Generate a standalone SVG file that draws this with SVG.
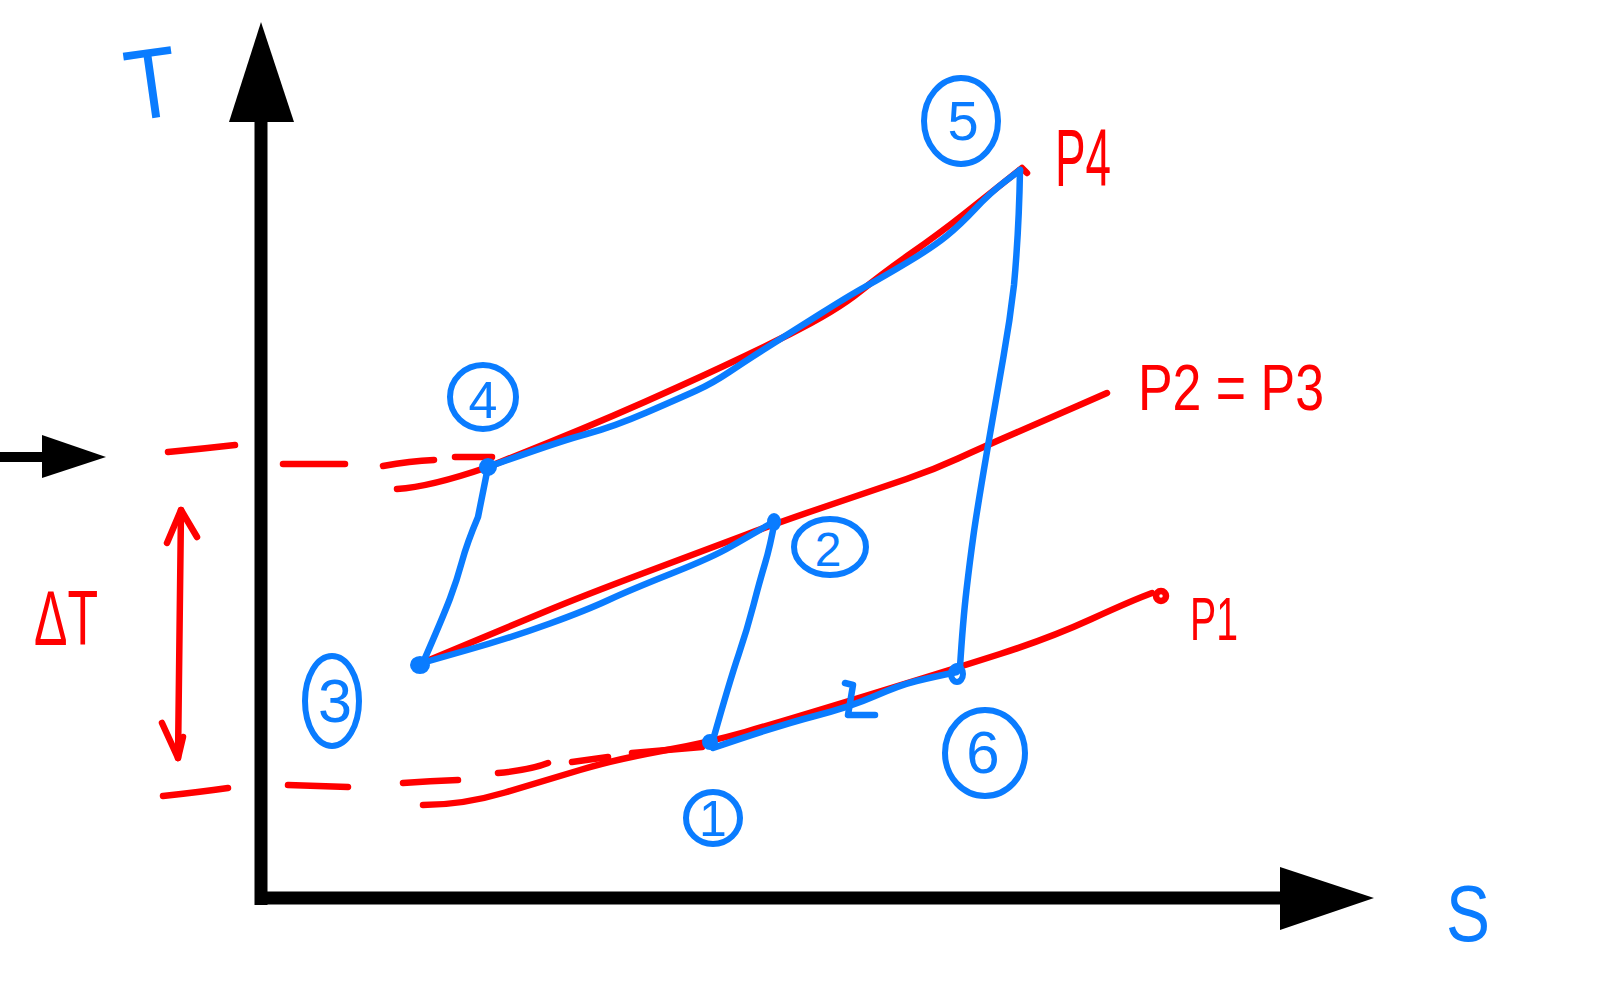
<svg xmlns="http://www.w3.org/2000/svg" width="1599" height="1000" viewBox="0 0 1599 1000">
<style>
.red{fill:none;stroke:#ff0000;stroke-width:6.5;stroke-linecap:round;stroke-linejoin:round}
.blue{fill:none;stroke:#0a7cff;stroke-width:6.5;stroke-linecap:round;stroke-linejoin:round}
.ring{fill:none;stroke:#0a7cff;stroke-width:6}
.dot{fill:#0a7cff;stroke:#0a7cff;stroke-width:2}
.bt{fill:#0a7cff;font-family:"Liberation Sans","Open Sans",sans-serif;text-anchor:middle}
.rt{fill:#ff0000;font-family:"Liberation Sans","Open Sans",sans-serif}
.axis{stroke:#000;stroke-width:13;fill:none}
</style>
<rect width="1599" height="1000" fill="#fff"/>

<g id="axes">
  <line class="axis" x1="261" y1="115" x2="261" y2="905"/>
  <polygon points="229,122 261,22 294,122" fill="#000"/>
  <line class="axis" x1="255" y1="898" x2="1285" y2="898"/>
  <polygon points="1280,867 1374,898 1280,930" fill="#000"/>
  <line x1="0" y1="457" x2="48" y2="457" stroke="#000" stroke-width="10"/>
  <polygon points="42,435 106,457 42,478" fill="#000"/>
</g>

<g id="axis-labels">
  <text class="bt" x="151" y="118" font-size="100" transform="rotate(-8 151 80)" textLength="52" lengthAdjust="spacingAndGlyphs">T</text>
  <text class="bt" x="1468" y="941" font-size="80" textLength="44" lengthAdjust="spacingAndGlyphs">S</text>
</g>

<g id="connectors">
  <!-- red dashed reference lines -->
  <path class="red" d="M168,452 Q200,449 235,445"/>
  <path class="red" d="M283,464 L345,464"/>
  <path class="red" d="M383,466 Q410,461 434,460"/>
  <path class="red" d="M455,457 L492,457"/>
  <path class="red" d="M163,796 Q200,792 228,788"/>
  <path class="red" d="M288,785 Q320,786 348,787"/>
  <path class="red" d="M403,783 Q430,781 458,780"/>
  <path class="red" d="M498,773 Q530,770 548,763"/>
  <path class="red" d="M572,762 L608,757"/>
  <path class="red" d="M632,753 L702,747"/>
  <!-- delta T double arrow -->
  <path class="red" d="M181,510 L178,758"/>
  <path class="red" d="M167,543 L181,510 L197,537"/>
  <path class="red" d="M162,723 L178,758 L183,737"/>
  <!-- isobar P4 -->
  <path class="red" d="M397,489 Q430,487 488,467 L550,442 Q612,417 678,387 Q744,357 790,334 Q836,311 859.5,292 Q883,273 911.5,253 Q940,233 961.5,216 Q983,199 1002.5,183.5 L1022,168 L1027,173"/>
  <!-- isobar P2=P3 -->
  <path class="red" d="M422,663 L467.5,644 Q513,625 546.5,611 Q580,597 646.5,572 Q713,547 746.5,534.5 Q780,522 830,505 Q880,488 906.5,479 Q933,470 958,458.5 Q983,447 1016.5,432.5 Q1050,418 1078.5,405.5 L1107,393"/>
  <!-- isobar P1 -->
  <path class="red" d="M423,805 Q463,805 505,792.5 Q547,780 580,770 Q613,760 661.5,751 Q710,742 745,732 Q780,722 865,696 Q950,670 1000,654 Q1050,638 1091.5,619 Q1133,600 1152,593"/>
  <circle cx="1161" cy="596" r="5" class="red"/>
  <!-- cycle lines (blue) -->
  <path class="blue" d="M488,467 Q560,441 586.5,434 Q613,427 646.5,412.5 Q680,398 696.5,390.5 Q713,383 730,371.5 Q747,360 768.5,346.5 Q790,333 820,314 Q850,295 866.5,286 Q883,277 908,262 Q933,247 946.5,236 Q960,225 975,209 Q990,193 1005,181.5 L1020,170"/>
  <path class="blue" d="M1020,170 Q1019,230 1014,285 Q1010,320 1003.5,356.5 Q997,393 987,451.5 Q977,510 973.5,535 Q970,560 966.5,590 Q963,620 960,667"/>
  <path class="blue" d="M713,748 Q780,725 815,716 Q850,707 875,696 Q900,685 916.5,681 Q933,677 957,672"/>
  <path class="blue" d="M775,520 Q770,547 765,563.5 Q760,580 753.5,605 Q747,630 738.5,655 Q730,680 713,740"/>
  <path class="blue" d="M422,663 L467.5,650 Q513,637 550,623.5 Q587,610 608.5,600 Q630,590 671.5,573.5 Q713,557 730,547 Q747,537 777,520"/>
  <path class="blue" d="M488,467 L478,517 Q467,543 462,561.5 Q457,580 450,598.5 Q443,617 422,665"/>
  <path class="blue" d="M845,683 L853,685 L848,715 L875,715"/>
</g>

<g id="state-1">
  <circle class="dot" cx="710" cy="742" r="7"/>
  <ellipse class="ring" cx="713" cy="818" rx="27" ry="26"/>
  <text class="bt" x="713" y="836" font-size="50">1</text>
</g>
<g id="state-2">
  <ellipse class="dot" cx="774" cy="522" rx="6" ry="8"/>
  <ellipse class="ring" cx="830" cy="547" rx="36" ry="28"/>
  <text class="bt" x="828" y="566" font-size="48">2</text>
</g>
<g id="state-3">
  <ellipse class="dot" cx="420" cy="665" rx="9" ry="8"/>
  <ellipse class="ring" cx="332" cy="701" rx="27" ry="45"/>
  <text class="bt" x="335" y="722" font-size="62" textLength="34" lengthAdjust="spacingAndGlyphs">3</text>
</g>
<g id="state-4">
  <circle class="dot" cx="488" cy="467" r="8"/>
  <ellipse class="ring" cx="483" cy="397" rx="33" ry="32"/>
  <text class="bt" x="483" y="418" font-size="52">4</text>
</g>
<g id="state-5">
  <ellipse class="ring" cx="961" cy="121" rx="37" ry="43"/>
  <text class="bt" x="963" y="140" font-size="56">5</text>
</g>
<g id="state-6">
  <ellipse class="ring" cx="957" cy="674" rx="6" ry="8"/>
  <ellipse class="ring" cx="985" cy="753" rx="40" ry="43"/>
  <text class="bt" x="983" y="773" font-size="60">6</text>
</g>

<g id="pressure-labels">
  <text class="rt" x="1055" y="186" font-size="82" textLength="56" lengthAdjust="spacingAndGlyphs">P4</text>
  <text class="rt" x="1138" y="410" font-size="64" textLength="186" lengthAdjust="spacingAndGlyphs">P2 = P3</text>
  <text class="rt" x="1190" y="640" font-size="62" textLength="48" lengthAdjust="spacingAndGlyphs">P1</text>
  <text class="rt" x="34" y="645" font-size="78" textLength="64" lengthAdjust="spacingAndGlyphs">ΔT</text>
</g>
</svg>
